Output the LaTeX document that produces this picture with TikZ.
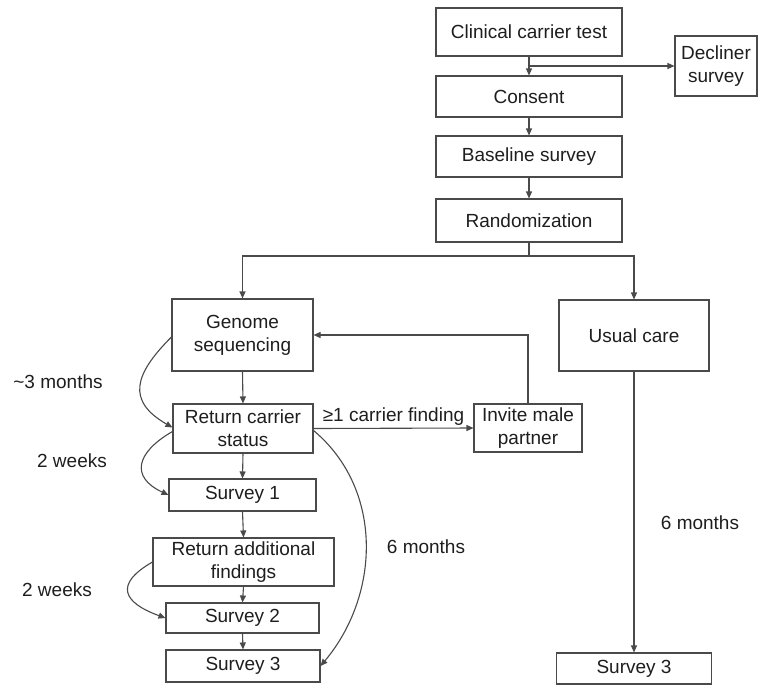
\documentclass[tikz,border=0pt]{standalone}
\usepackage{fontspec}
\setmainfont{Liberation Sans}
\usetikzlibrary{arrows.meta,calc}
\definecolor{boxc}{HTML}{4A4A4A}
\definecolor{linec}{HTML}{4A4A4A}
\definecolor{txt}{HTML}{1E1E1E}
\begin{document}
\begin{tikzpicture}[x=1pt,y=1pt,
  box/.style={draw=boxc, line width=1.1pt, fill=white, inner sep=0pt, align=center, font=\fontsize{19}{23}\selectfont, text=txt},
  lbl/.style={inner sep=0pt, font=\fontsize{19}{23}\selectfont, text=txt},
  conn/.style={draw=linec, line width=1.1pt, -{Triangle[length=7pt,width=6pt]}},
  plain/.style={draw=linec, line width=1.1pt}]
\useasboundingbox (0,0) rectangle (763,-686);
% top column
\node[box, minimum width=186pt, minimum height=48pt] (clin) at (529,-32) {Clinical carrier test};
\node[box, minimum width=82pt, minimum height=60pt] (decl) at (716,-66) {Decliner\\survey};
\node[box, minimum width=186pt, minimum height=41pt] (cons) at (529,-96.5) {Consent};
\node[box, minimum width=186pt, minimum height=41pt] (base) at (529,-156.5) {Baseline survey};
\node[box, minimum width=186pt, minimum height=43pt] (rand) at (529,-220.5) {Randomization};
% branches
\node[box, minimum width=141pt, minimum height=72pt] (genome) at (242.5,-335) {Genome\\sequencing};
\node[box, minimum width=150pt, minimum height=71pt] (usual) at (634,-335.5) {Usual care};
\node[box, minimum width=140pt, minimum height=49pt] (rcs) at (243,-428.5) {Return carrier\\status};
\node[box, minimum width=108pt, minimum height=48pt] (invite) at (528,-428) {Invite male\\partner};
\node[box, minimum width=147pt, minimum height=32pt] (s1) at (242.5,-495) {Survey 1};
\node[box, minimum width=181pt, minimum height=48pt] (raf) at (243.5,-562) {Return additional\\findings};
\node[box, minimum width=153pt, minimum height=30pt] (s2) at (242.5,-618) {Survey 2};
\node[box, minimum width=154pt, minimum height=32pt] (s3l) at (243,-666) {Survey 3};
\node[box, minimum width=155pt, minimum height=31pt] (s3r) at (634,-668.5) {Survey 3};
% labels
\node[lbl] (l3m) at (58,-382) {\textasciitilde 3 months};
\node[lbl] (l2wa) at (72,-461) {2 weeks};
\node[lbl] (l2wb) at (57,-590) {2 weeks};
\node[lbl] (l6ma) at (426,-547) {6 months};
\node[lbl] (l6mb) at (700,-523) {6 months};
% connectors
\coordinate (dsplit) at ($(clin.south)!0.5!(cons.north)$);
\draw[conn] (clin.south) -- (cons.north);
\draw[conn] (dsplit) -- (dsplit -| decl.west);
\draw[conn] (cons.south) -- (base.north);
\draw[conn] (base.south) -- (rand.north);
\coordinate (split) at (529,-256);
\draw[plain] (rand.south) -- (split);
\draw[conn] (split) -| (genome.north);
\draw[conn] (split) -| (usual.north);
\draw[conn] (genome.south) -- (rcs.north);
\draw[conn] (rcs.south) -- (s1.north);
\draw[conn] (s1.south) -- (raf.north);
\draw[conn] (raf.south) -- (s2.north);
\draw[conn] (s2.south) -- (s3l.north);
\draw[conn] (rcs.east) -- node[above, lbl, yshift=2pt] (lfind) {≥1 carrier finding} (invite.west);
\draw[conn] (invite.north) |- (genome.east);
\draw[conn] (usual.south) -- (usual.south |- s3r.north);
% timing curves
\draw[conn] ([yshift=-2pt]genome.west) to[out=225, in=150, looseness=1.5] ([yshift=1pt]rcs.west);
\draw[conn] ([yshift=-3pt]rcs.west) to[out=210, in=155, looseness=1.7] (s1.west);
\draw[conn] (raf.west) to[out=210, in=160, looseness=2] (s2.west);
\draw[conn] ([yshift=-2pt]rcs.east) to[out=-40, in=50, looseness=1] (s3l.east);
\end{tikzpicture}
\end{document}
